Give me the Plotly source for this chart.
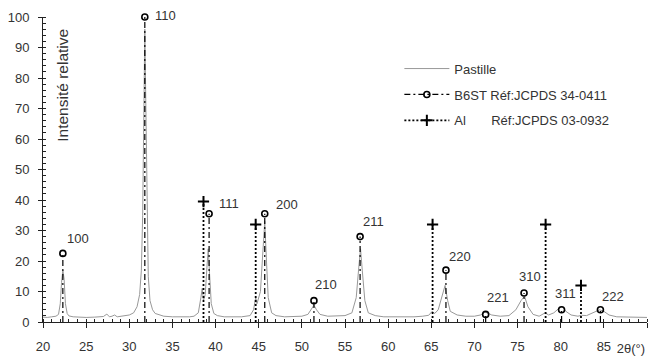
import plotly.graph_objects as go

# ---- data ----
two_theta = [20.0, 20.5, 21.0, 21.5, 21.8, 22.0, 22.15, 22.3, 22.45, 22.6, 22.8, 23.0, 23.5, 24.0, 25.0,
             26.0, 27.0, 27.4, 27.7, 28.0, 28.3, 28.6, 29.0, 29.5, 30.0, 30.5, 30.9, 31.2, 31.4, 31.55,
             31.7, 31.8, 31.9, 32.05, 32.2, 32.4, 32.7, 33.0, 33.5, 34.0, 35.0, 36.0, 37.0, 37.5, 38.0,
             38.3, 38.45, 38.6, 38.8, 39.0, 39.15, 39.3, 39.5, 39.8, 40.2, 41.0, 42.0, 43.0, 44.0, 44.4,
             44.65, 44.8, 45.2, 45.5, 45.7, 45.9, 46.1, 46.5, 47.0, 48.0, 49.0, 50.0, 50.7, 51.1, 51.4,
             51.7, 52.1, 53.0, 54.0, 55.0, 55.8, 56.3, 56.6, 56.8, 57.0, 57.3, 57.7, 58.5, 59.5, 61.0,
             62.0, 63.0, 64.0, 64.7, 65.1, 65.4, 65.8, 66.2, 66.6, 66.9, 67.2, 68.0, 69.0, 70.0, 70.7,
             71.2, 71.5, 72.0, 73.0, 74.0, 74.8, 75.4, 75.8, 76.2, 76.8, 77.5, 78.2, 78.6, 79.2, 79.8,
             80.2, 80.6, 81.2, 82.0, 82.4, 83.0, 83.8, 84.5, 85.0, 85.6, 86.5, 87.5, 88.5, 89.5, 90.0]
intensity = [1.6, 1.5, 1.7, 1.9, 2.5, 6, 13, 17, 14, 6, 2.8, 2.0, 1.7, 1.6, 1.5,
             1.6, 1.8, 2.6, 1.7, 1.9, 2.3, 1.7, 1.9, 2.1, 2.3, 3.0, 5, 9, 17, 35,
             70, 96, 75, 35, 15, 7, 4, 2.8, 2.3, 1.9, 1.7, 1.6, 1.7, 1.9, 3,
             8, 11, 7, 9, 18, 24, 16, 6, 2.8, 2.1, 1.7, 1.6, 1.7, 2.1, 4,
             8, 6, 10, 25, 33, 20, 8, 3, 2.1, 1.7, 1.7, 1.9, 2.5, 4, 5.5,
             4, 2.5, 1.9, 1.9, 2.1, 3, 8, 18, 24, 17, 7, 3, 2.1, 1.7, 1.6,
             1.7, 1.7, 1.9, 2.2, 3.5, 2.8, 4, 8, 12, 7, 3.5, 2.3, 1.9, 1.9, 2.3,
             3.2, 3, 2.3, 1.9, 2.1, 4, 7, 8.5, 5, 2.5, 1.9, 3, 2.3, 3, 4.5,
             5, 3.5, 2.3, 1.9, 2.2, 2.1, 3, 4, 3.5, 2.3, 1.7, 1.6, 1.6, 1.5, 1.5]

b6st_pos = [22.3, 31.8, 39.25, 45.7, 51.4, 56.75, 66.7, 71.3, 75.75, 80.1, 84.6]
b6st_int = [22.5, 100, 35.5, 35.5, 7, 28, 17, 2.5, 9.5, 4, 4]
b6st_hkl = ["100", "110", "111", "200", "210", "211", "220", "221", "310", "311", "222"]

al_pos = [38.6, 44.65, 65.15, 78.25, 82.35]
al_int = [39.5, 32, 32, 32, 12]

x_ticks = [20, 25, 30, 35, 40, 45, 50, 55, 60, 65, 70, 75, 80, 85, 90]
x_ticktext = ["20", "25", "30", "35", "40", "45", "50", "55", "60", "65", "70", "75", "80", "85", ""]
y_ticks = [0, 10, 20, 30, 40, 50, 60, 70, 80, 90, 100]

# label offsets in pixels (style)
lab_dx = [2, 8, 8, 9, -1, 1, 1, -1, -7, -9, 0]
lab_dy = [15, 2, 10, 9, 16, 15, 14, 17, 17, 16, 13]

FONT = "Liberation Sans, Arial, sans-serif"
TXT = "#333333"
FS = 13

fig = go.Figure()

fig.add_trace(go.Scatter(x=two_theta, y=intensity, mode="lines", name="Pastille",
                         line=dict(color="#999999", width=1), legendgroup="a"))

# B6ST drop lines
bx, by = [], []
for p, v in zip(b6st_pos, b6st_int):
    bx += [p, p, None]
    by += [0, v, None]
b_dash = "6px,3px,2px,3px"
fig.add_trace(go.Scatter(x=bx, y=by, mode="lines", showlegend=False,
                         line=dict(color="black", width=1.2, dash=b_dash)))
fig.add_trace(go.Scatter(x=b6st_pos, y=b6st_int, mode="markers", showlegend=False, cliponaxis=False,
                         marker=dict(symbol="circle-open", size=6, color="black", line=dict(width=1.6))))
# Al drop lines
ax_, ay_ = [], []
for p, v in zip(al_pos, al_int):
    ax_ += [p, p, None]
    ay_ += [0, v, None]
a_dash = "2px,2px"
fig.add_trace(go.Scatter(x=ax_, y=ay_, mode="lines", showlegend=False,
                         line=dict(color="black", width=1.8, dash=a_dash)))
fig.add_trace(go.Scatter(x=al_pos, y=al_int, mode="markers", showlegend=False, cliponaxis=False,
                         marker=dict(symbol="cross-thin-open", size=8, color="black", line=dict(width=2, color="black"))))

# legend entries
fig.add_trace(go.Scatter(x=[None], y=[None], mode="lines+markers", name="B6ST Réf:JCPDS 34-0411",
                         legendgroup="b",
                         line=dict(color="black", width=1.2, dash=b_dash),
                         marker=dict(symbol="circle-open", size=6, color="black", line=dict(width=1.6))))
fig.add_trace(go.Scatter(x=[None], y=[None], mode="lines+markers",
                         name="Al" + "\u00a0" * 7 + "Réf:JCPDS 03-0932", legendgroup="c",
                         line=dict(color="black", width=1.8, dash=a_dash),
                         marker=dict(symbol="cross-thin-open", size=8, color="black", line=dict(width=2, color="black"))))

annotations = []
for p, v, t, dx, dy in zip(b6st_pos, b6st_int, b6st_hkl, lab_dx, lab_dy):
    annotations.append(dict(x=p, y=v, text=t, showarrow=False, xanchor="left", yanchor="middle",
                            xshift=dx, yshift=dy, font=dict(family=FONT, size=FS, color=TXT)))
annotations.append(dict(xref="paper", x=1, y=0, text="2θ(°)", showarrow=False, xanchor="right",
                        yanchor="middle", width=44, align="right",
                        yshift=-26, font=dict(family=FONT, size=FS, color=TXT)))
annotations.append(dict(xref="paper", yref="paper", x=0.031, y=0.777, text="Intensité relative",
                        xanchor="center", yanchor="middle",
                        textangle=-90, showarrow=False, font=dict(family=FONT, size=15.5, color=TXT)))

fig.update_layout(
    width=652, height=361,
    margin=dict(l=43, r=5, t=17, b=39),
    paper_bgcolor="white", plot_bgcolor="white",
    font=dict(family=FONT, size=FS, color=TXT),
    showlegend=True,
    legend=dict(x=0.59, y=0.88, xanchor="left", yanchor="top", bgcolor="rgba(0,0,0,0)",
                font=dict(family=FONT, size=FS, color=TXT), tracegroupgap=6, itemwidth=45,
                traceorder="grouped"),
    annotations=annotations,
    xaxis=dict(range=[20, 90], tickvals=x_ticks, ticktext=x_ticktext, showgrid=False, zeroline=False,
               automargin=False,
               showline=True, linecolor="#222222", linewidth=1, ticks="outside", ticklen=5,
               tickcolor="#222222", ticklabelstandoff=7,
               minor=dict(dtick=1, ticks="inside", ticklen=3, tickcolor="#222222", showgrid=False)),
    yaxis=dict(range=[0, 100], tickvals=y_ticks, showgrid=False, zeroline=False,
               automargin=False,
               showline=True, linecolor="#222222", linewidth=1, ticks="outside", ticklen=4,
               tickcolor="#222222", ticklabelstandoff=6,
               minor=dict(dtick=2, ticks="inside", ticklen=3, tickcolor="#222222", showgrid=False)),
)

fig.write_html("out.html", config={"displayModeBar": False},
               post_script="document.body.style.margin='0';document.body.style.overflow='hidden';")
